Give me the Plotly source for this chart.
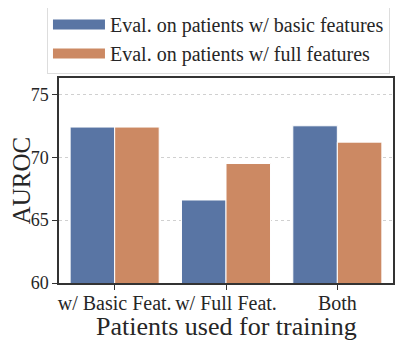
import plotly.graph_objects as go

categories = ['w/ Basic Feat.', 'w/ Full Feat.', 'Both']
eval_basic = [72.4, 66.6, 72.5]
eval_full = [72.4, 69.5, 71.2]
series_names = ['Eval. on patients w/ basic features',
                'Eval. on patients w/ full features']
colors = ['#5975a4', '#cc8963']
y_ticks = [60, 65, 70, 75]

font_family = 'Times New Roman, Liberation Serif, serif'

fig = go.Figure()
for vals, name, col in zip([eval_basic, eval_full], series_names, colors):
    fig.add_trace(go.Bar(x=categories, y=vals, name=name, showlegend=False,
                         marker=dict(color=col, line=dict(color='white', width=1))))
# legend-only entries so the legend shows wide patches like the original
for name, col in zip(series_names, colors):
    fig.add_trace(go.Scatter(x=[None], y=[None], mode='lines', name=name,
                             line=dict(color=col, width=12)))

# page body has an 8px margin, so the figure is a bit smaller than the window
fig.update_layout(
    width=399, height=336,
    margin=dict(l=51, r=14, t=70, b=61, autoexpand=False),
    barmode='group', bargap=0.2, bargroupgap=0,
    plot_bgcolor='white', paper_bgcolor='white',
    font=dict(family=font_family, color='#262626'),
    legend=dict(x=-0.036, xanchor='left', y=1.361, yanchor='top',
                font=dict(size=20, family=font_family),
                bordercolor='#dddddd', borderwidth=1, bgcolor='white',
                itemwidth=52, tracegroupgap=0),
    annotations=[dict(text='Patients used for training', x=0.5, y=-0.21,
                      xref='paper', yref='paper', xanchor='center', yanchor='middle',
                      showarrow=False, font=dict(size=26, family=font_family))],
)

fig.update_xaxes(
    automargin=False, tickangle=0,
    showline=True, linecolor='#333333', linewidth=1.5, mirror=True,
    ticks='outside', ticklen=5, tickcolor='#333333', ticklabelstandoff=-4,
    tickfont=dict(size=20, family=font_family),
)
fig.update_yaxes(
    automargin=False,
    range=[60, 76.3], tickvals=y_ticks,
    showline=True, linecolor='#333333', linewidth=1.5, mirror=True,
    ticks='outside', ticklen=5, tickcolor='#333333',
    tickfont=dict(size=18, family=font_family),
    showgrid=True, gridcolor='#d0d0d0', griddash='dot', gridwidth=1,
    zeroline=False,
    title=dict(text='AUROC', font=dict(size=25, family=font_family), standoff=6),
)

fig.write_html("out.html")
